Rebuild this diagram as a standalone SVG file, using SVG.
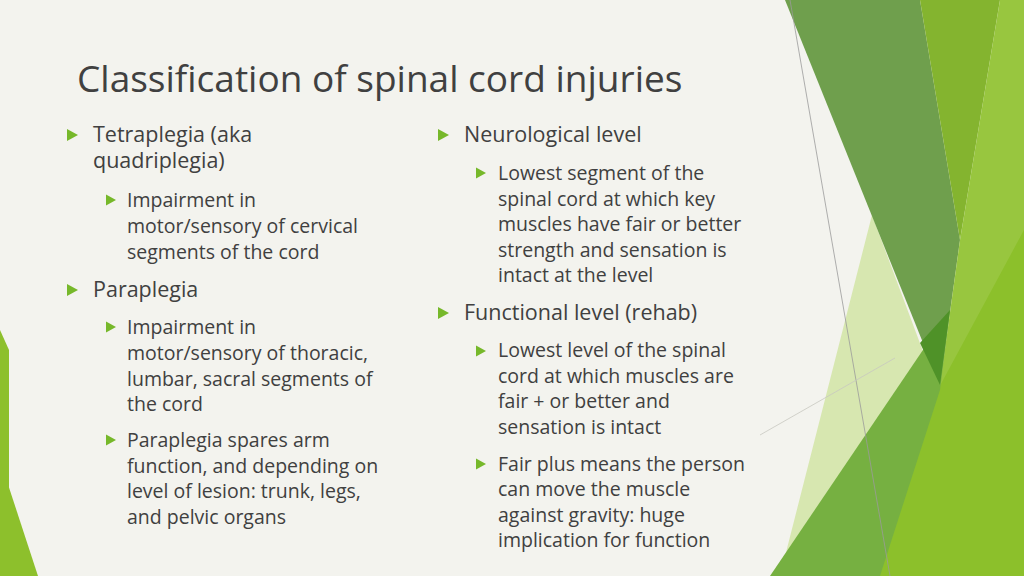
<svg xmlns="http://www.w3.org/2000/svg" width="1024" height="576" viewBox="0 0 1024 576">
<style>
.t{font-family:"Open Sans","DejaVu Sans",sans-serif;fill:#404040}
.l1{font-size:21.5px}
.l2{font-size:19.5px}
.b{fill:#76b82a}
</style>
<defs>
<polygon id="b1" points="0,-6 11,0 0,6" class="b"/>
<polygon id="b2" points="0,-5.5 10,0 0,5.5" class="b"/>
</defs>
<rect width="1024" height="576" fill="#f3f3ee"/>
<g id="deco">
<polygon points="0,330 9,350 9,576 0,576" fill="#8dc02c"/>
<polygon points="0,460 38,576 0,576" fill="#8dc02c"/>
<polygon points="872,215 930,370 950,420 880,576 780,576" fill="#d4e6a8" opacity="0.9"/>
<polygon points="785,0 920,0 960,240 940,385" fill="#6f9f4d"/>
<polygon points="920,0 1000,0 960,240" fill="#84b42f"/>
<polygon points="1000,0 1024,0 1024,576 930,576 940,385 960,240" fill="#98c63f"/>
<polygon points="1024,230 1024,576 870,576 935,395" fill="#8cc02b"/>
<polygon points="770,576 950,310 940,390 880,576" fill="#76b041"/>
<polygon points="920,343 950,310 940,385" fill="#4f9228"/>
<line x1="790" y1="0" x2="890" y2="576" stroke="#9a9a9a" stroke-width="0.8"/>
<line x1="760" y1="435" x2="895" y2="358" stroke="#c8c8c0" stroke-width="0.8"/>
</g>
<text class="t" x="77" y="92" font-size="37">Classification of spinal cord injuries</text>
<g id="left">
<use href="#b1" x="67" y="135"/>
<text class="t l1" x="93" y="142">Tetraplegia (aka</text>
<text class="t l1" x="93" y="168">quadriplegia)</text>
<use href="#b2" x="106" y="200"/>
<text class="t l2" x="127" y="207">Impairment in</text>
<text class="t l2" x="127" y="233">motor/sensory of cervical</text>
<text class="t l2" x="127" y="259">segments of the cord</text>
<use href="#b1" x="67" y="290"/>
<text class="t l1" x="93" y="297">Paraplegia</text>
<use href="#b2" x="106" y="327"/>
<text class="t l2" x="127" y="334">Impairment in</text>
<text class="t l2" x="127" y="360">motor/sensory of thoracic,</text>
<text class="t l2" x="127" y="386">lumbar, sacral segments of</text>
<text class="t l2" x="127" y="411">the cord</text>
<use href="#b2" x="106" y="440"/>
<text class="t l2" x="127" y="447">Paraplegia spares arm</text>
<text class="t l2" x="127" y="473">function, and depending on</text>
<text class="t l2" x="127" y="498">level of lesion: trunk, legs,</text>
<text class="t l2" x="127" y="524">and pelvic organs</text>
</g>
<g id="right">
<use href="#b1" x="438" y="135"/>
<text class="t l1" x="464" y="142">Neurological level</text>
<use href="#b2" x="476" y="173"/>
<text class="t l2" x="498" y="180">Lowest segment of the</text>
<text class="t l2" x="498" y="206">spinal cord at which key</text>
<text class="t l2" x="498" y="231">muscles have fair or better</text>
<text class="t l2" x="498" y="257">strength and sensation is</text>
<text class="t l2" x="498" y="282">intact at the level</text>
<use href="#b1" x="438" y="313"/>
<text class="t l1" x="464" y="320">Functional level (rehab)</text>
<use href="#b2" x="476" y="351"/>
<text class="t l2" x="498" y="357">Lowest level of the spinal</text>
<text class="t l2" x="498" y="383">cord at which muscles are</text>
<text class="t l2" x="498" y="408">fair + or better and</text>
<text class="t l2" x="498" y="434">sensation is intact</text>
<use href="#b2" x="476" y="464"/>
<text class="t l2" x="498" y="471">Fair plus means the person</text>
<text class="t l2" x="498" y="496">can move the muscle</text>
<text class="t l2" x="498" y="522">against gravity: huge</text>
<text class="t l2" x="498" y="547">implication for function</text>
</g>
</svg>
